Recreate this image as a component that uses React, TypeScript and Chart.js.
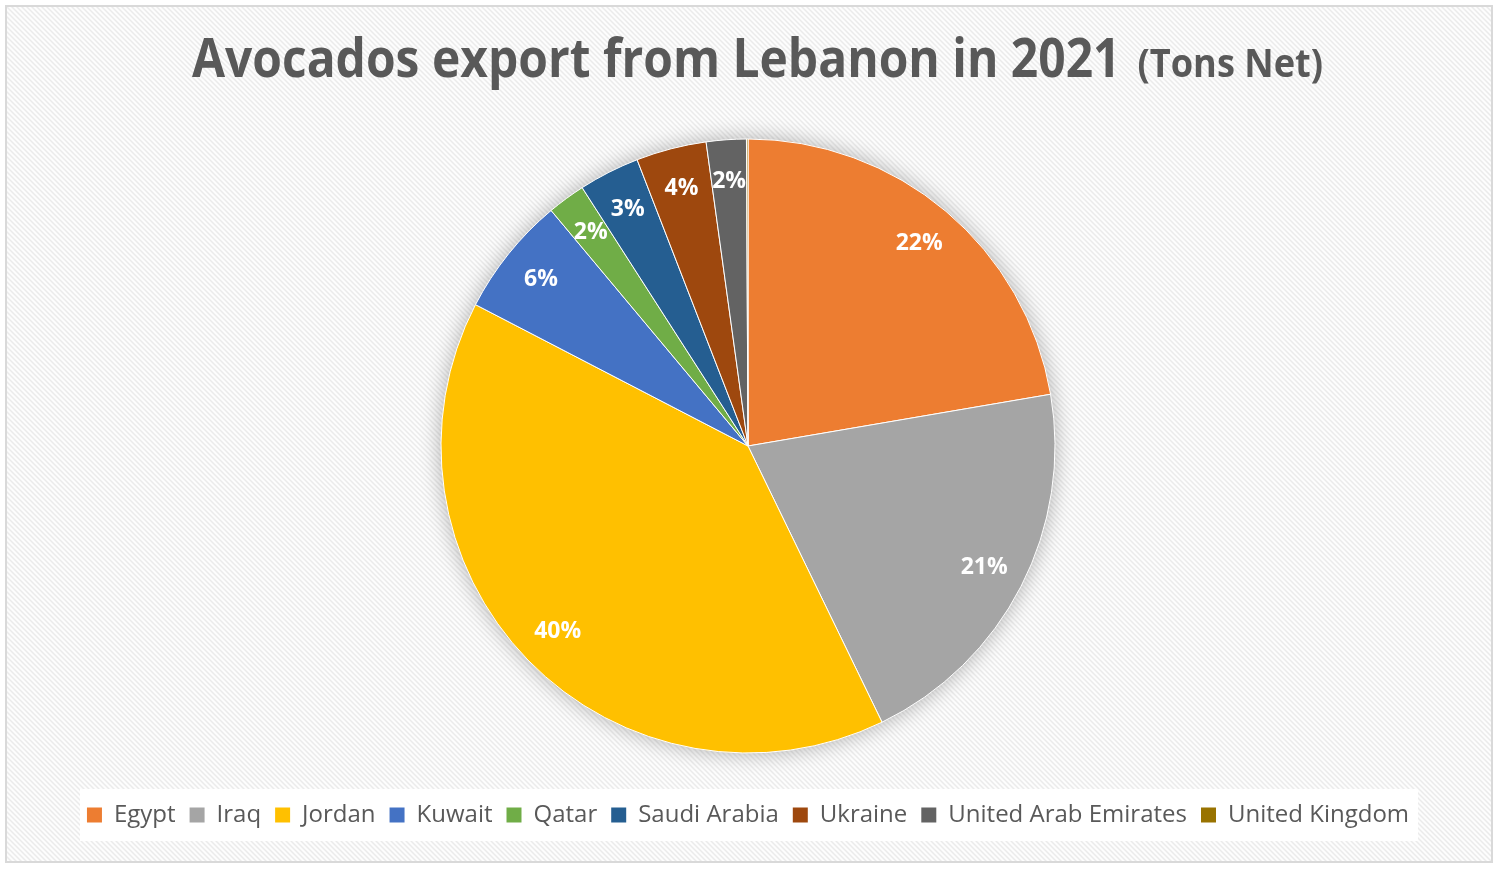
import { useEffect, useRef } from "react";
import { Chart, registerables } from "chart.js";

Chart.register(...registerables);

const countries = [
  "Egypt",
  "Iraq",
  "Jordan",
  "Kuwait",
  "Qatar",
  "Saudi Arabia",
  "Ukraine",
  "United Arab Emirates",
  "United Kingdom",
];
const sharePct = [22.3, 20.5, 39.8, 6.3, 2.0, 3.2, 3.7, 2.1, 0.08];
const sliceColors = [
  "#ED7D31",
  "#A5A5A5",
  "#FFC000",
  "#4472C4",
  "#70AD47",
  "#255E91",
  "#9E480E",
  "#636363",
  "#997300",
];
const titleMain = "Avocados export from Lebanon in 2021";
const titleUnit = "(Tons Net)";

const W = 1498;
const H = 870;

const decorPlugin = {
  id: "decor",
  beforeDraw(chart: any) {
    const ctx = chart.ctx as CanvasRenderingContext2D;
    ctx.save();
    ctx.fillStyle = "#ffffff";
    ctx.fillRect(0, 0, W, H);
    const p = document.createElement("canvas");
    p.width = 5;
    p.height = 5;
    const pc = p.getContext("2d")!;
    pc.fillStyle = "#fdfdfd";
    pc.fillRect(0, 0, 5, 5);
    pc.strokeStyle = "#ebebeb";
    pc.lineWidth = 1.5;
    pc.beginPath();
    pc.moveTo(-1, -1);
    pc.lineTo(6, 6);
    pc.moveTo(-1, 4);
    pc.lineTo(1, 6);
    pc.moveTo(4, -1);
    pc.lineTo(6, 1);
    pc.stroke();
    const pat = ctx.createPattern(p, "repeat");
    if (pat) ctx.fillStyle = pat;
    ctx.fillRect(6, 6, 1486, 856);
    ctx.strokeStyle = "#d9d9d9";
    ctx.lineWidth = 2;
    ctx.strokeRect(6, 6, 1486, 856);

    // legend background
    ctx.fillStyle = "#ffffff";
    ctx.fillRect(80, 789, 1338, 52);

    // title
    const mainFont = "bold 53px 'Open Sans'";
    const unitFont = "bold 40px 'Open Sans'";
    ctx.font = mainFont;
    const mw = ctx.measureText(titleMain).width;
    ctx.font = unitFont;
    const uw = ctx.measureText(titleUnit).width;
    const gap = 17;
    const targetW = 1131;
    const sx = (targetW - gap) / (mw + uw);
    ctx.fillStyle = "#595959";
    ctx.textBaseline = "alphabetic";
    ctx.textAlign = "left";
    ctx.translate(192, 77);
    ctx.scale(sx, 1);
    ctx.font = mainFont;
    ctx.fillText(titleMain, 0, 0);
    ctx.font = unitFont;
    ctx.fillText(titleUnit, mw + gap / sx, 0);
    ctx.restore();
  },
  beforeDatasetsDraw(chart: any) {
    const meta = chart.getDatasetMeta(0);
    const arc = meta.data[0];
    if (!arc) return;
    const { x, y, outerRadius } = arc.getProps(["x", "y", "outerRadius"], true);
    const ctx = chart.ctx as CanvasRenderingContext2D;
    ctx.save();
    ctx.shadowColor = "rgba(0,0,0,0.33)";
    ctx.shadowBlur = 22;
    ctx.fillStyle = "#ffffff";
    ctx.beginPath();
    ctx.arc(x, y, outerRadius - 1, 0, Math.PI * 2);
    ctx.fill();
    ctx.restore();
  },
  afterDatasetsDraw(chart: any) {
    const meta = chart.getDatasetMeta(0);
    const data = chart.data.datasets[0].data as number[];
    const total = data.reduce((a, b) => a + b, 0);
    const ctx = chart.ctx as CanvasRenderingContext2D;
    ctx.save();
    ctx.fillStyle = "#ffffff";
    ctx.font = "bold 23px 'Open Sans'";
    ctx.textAlign = "center";
    ctx.textBaseline = "middle";
    meta.data.forEach((el: any, i: number) => {
      const pct = Math.round((data[i] / total) * 100);
      if (pct < 1) return;
      const { x, y, startAngle, endAngle, outerRadius } = el.getProps(
        ["x", "y", "startAngle", "endAngle", "outerRadius"],
        true
      );
      const mid = (startAngle + endAngle) / 2;
      const r = outerRadius * 0.865;
      ctx.fillText(pct + "%", x + Math.cos(mid) * r, y + Math.sin(mid) * r);
    });
    ctx.restore();
  },
};

export default function App() {
  const ref = useRef<HTMLCanvasElement | null>(null);
  useEffect(() => {
    if (!ref.current) return;
    const chart = new Chart(ref.current, {
      type: "pie",
      data: {
        labels: countries,
        datasets: [
          {
            data: sharePct,
            backgroundColor: sliceColors,
            borderColor: "#ffffff",
            borderWidth: 1,
            radius: 307,
          } as any,
        ],
      },
      options: {
        responsive: false,
        animation: false,
        events: [],
        layout: { padding: { top: 103, bottom: 33, left: 0, right: 2 } },
        plugins: {
          tooltip: { enabled: false },
          title: { display: false },
          legend: {
            position: "bottom",
            labels: {
              boxWidth: 15,
              boxHeight: 15,
              padding: 14,
              color: "#595959",
              font: { family: "'Open Sans'", size: 24 },
              generateLabels: (c: any) => {
                const base = (Chart as any).overrides.pie.plugins.legend.labels.generateLabels(c);
                return base.map((it: any) => ({ ...it, lineWidth: 0 }));
              },
            },
          },
        },
      },
      plugins: [decorPlugin],
    });
    return () => chart.destroy();
  }, []);
  return (
    <div style={{ position: "absolute", left: 0, top: 0, width: W, height: H }}>
      <canvas ref={ref} width={W} height={H} style={{ width: W, height: H, display: "block" }} />
    </div>
  );
}
